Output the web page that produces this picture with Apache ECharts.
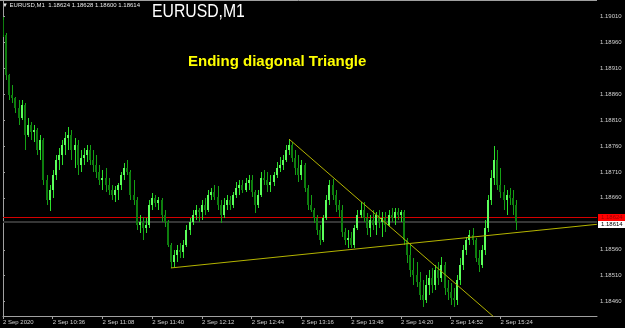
<!DOCTYPE html>
<html><head><meta charset="utf-8">
<script src="https://cdn.jsdelivr.net/npm/echarts@6/dist/echarts.min.js"></script>
<style>html,body{margin:0;padding:0;background:#000;overflow:hidden}#c{width:625px;height:328px}</style>
</head><body><div id="c"></div>
<script>
// minutes since 10:04 for each (2-minute) bar
const barMinute = [0,2,4,6,8,10,12,14,16,18,20,22,24,26,28,30,32,34,36,38,40,42,44,46,48,50,52,54,56,58,60,62,64,66,68,70,72,74,76,78,80,82,84,86,88,90,92,94,96,98,100,102,104,106,108,110,112,114,116,118,120,122,124,126,128,130,132,134,136,138,140,142,144,146,148,150,152,154,156,158,160,162,164,166,168,170,172,174,176,178,180,182,184,186,188,190,192,194,196,198,200,202,204,206,208,210,212,214,216,218,220,222,224,226,228,230,232,234,236,238,240,242,244,246,248,250,252,254,256,258,260,262,264,266,268,270,272,274,276,278,280,282,284,286,288,290,292,294,296,298,300,302,304,306,308,310,312,314,316,318,320,322,324,326,328,330];
const openP = [
1.19002,1.18973,1.18896,1.18858,1.18852,1.18833,1.18814,1.18839,1.18781,1.18800,
1.18787,1.18791,1.18752,1.18771,1.18694,1.18656,1.18675,1.18704,1.18733,1.18742,
1.18762,1.18775,1.18781,1.18752,1.18762,1.18723,1.18737,1.18742,1.18752,1.18733,
1.18723,1.18710,1.18694,1.18698,1.18685,1.18675,1.18665,1.18675,1.18685,1.18704,
1.18717,1.18710,1.18665,1.18656,1.18608,1.18613,1.18602,1.18608,1.18646,1.18660,
1.18650,1.18656,1.18627,1.18613,1.18569,1.18536,1.18550,1.18560,1.18556,1.18569,
1.18598,1.18613,1.18627,1.18637,1.18633,1.18646,1.18637,1.18665,1.18671,1.18662,
1.18646,1.18627,1.18646,1.18656,1.18646,1.18665,1.18679,1.18685,1.18675,1.18689,
1.18694,1.18671,1.18646,1.18665,1.18698,1.18694,1.18685,1.18690,1.18704,1.18717,
1.18723,1.18733,1.18752,1.18762,1.18737,1.18717,1.18704,1.18723,1.18679,1.18646,
1.18637,1.18621,1.18598,1.18579,1.18621,1.18656,1.18685,1.18665,1.18646,1.18637,
1.18594,1.18579,1.18583,1.18569,1.18602,1.18627,1.18637,1.18621,1.18602,1.18617,
1.18608,1.18627,1.18613,1.18621,1.18608,1.18627,1.18621,1.18633,1.18627,1.18633,
1.18579,1.18550,1.18521,1.18511,1.18498,1.18473,1.18463,1.18492,1.18506,1.18492,
1.18521,1.18506,1.18531,1.18486,1.18479,1.18467,1.18463,1.18502,1.18531,1.18560,
1.18579,1.18588,1.18579,1.18544,1.18531,1.18560,1.18602,1.18656,1.18698,1.18733,
1.18685,1.18671,1.18656,1.18665,1.18660,1.18646];
const closeP = [
1.18973,1.18896,1.18858,1.18852,1.18833,1.18814,1.18839,1.18781,1.18800,1.18787,
1.18791,1.18752,1.18771,1.18694,1.18656,1.18675,1.18704,1.18733,1.18742,1.18762,
1.18775,1.18781,1.18752,1.18762,1.18723,1.18737,1.18742,1.18752,1.18733,1.18723,
1.18710,1.18694,1.18698,1.18685,1.18675,1.18665,1.18675,1.18685,1.18704,1.18717,
1.18710,1.18665,1.18656,1.18608,1.18613,1.18602,1.18608,1.18646,1.18660,1.18650,
1.18656,1.18627,1.18613,1.18569,1.18536,1.18550,1.18560,1.18556,1.18569,1.18598,
1.18613,1.18627,1.18637,1.18633,1.18646,1.18637,1.18665,1.18671,1.18662,1.18646,
1.18627,1.18646,1.18656,1.18646,1.18665,1.18679,1.18685,1.18675,1.18689,1.18694,
1.18671,1.18646,1.18665,1.18698,1.18694,1.18685,1.18690,1.18704,1.18717,1.18723,
1.18733,1.18752,1.18762,1.18737,1.18717,1.18704,1.18723,1.18679,1.18646,1.18637,
1.18621,1.18598,1.18579,1.18621,1.18656,1.18685,1.18665,1.18646,1.18637,1.18594,
1.18579,1.18583,1.18569,1.18602,1.18627,1.18637,1.18621,1.18602,1.18617,1.18608,
1.18627,1.18613,1.18621,1.18608,1.18627,1.18621,1.18633,1.18627,1.18633,1.18579,
1.18550,1.18521,1.18511,1.18498,1.18473,1.18463,1.18492,1.18506,1.18492,1.18521,
1.18506,1.18531,1.18486,1.18479,1.18467,1.18463,1.18502,1.18531,1.18560,1.18579,
1.18588,1.18579,1.18544,1.18531,1.18560,1.18602,1.18656,1.18698,1.18733,1.18685,
1.18671,1.18656,1.18665,1.18660,1.18646,1.18614];
const highP = [
1.19008,1.18977,1.18898,1.18877,1.18854,1.18848,1.18848,1.18842,1.18814,1.18806,
1.18800,1.18794,1.18781,1.18775,1.18704,1.18685,1.18714,1.18742,1.18756,1.18771,
1.18787,1.18796,1.18791,1.18775,1.18771,1.18752,1.18756,1.18762,1.18762,1.18752,
1.18742,1.18723,1.18714,1.18717,1.18698,1.18685,1.18683,1.18688,1.18710,1.18727,
1.18733,1.18714,1.18694,1.18662,1.18627,1.18623,1.18621,1.18656,1.18669,1.18665,
1.18662,1.18660,1.18637,1.18617,1.18573,1.18560,1.18569,1.18573,1.18579,1.18608,
1.18621,1.18637,1.18646,1.18640,1.18656,1.18660,1.18675,1.18679,1.18685,1.18683,
1.18656,1.18660,1.18665,1.18664,1.18671,1.18690,1.18694,1.18694,1.18698,1.18704,
1.18704,1.18675,1.18675,1.18710,1.18714,1.18710,1.18704,1.18710,1.18729,1.18739,
1.18742,1.18762,1.18773,1.18767,1.18752,1.18742,1.18733,1.18727,1.18685,1.18665,
1.18640,1.18627,1.18608,1.18627,1.18665,1.18694,1.18696,1.18675,1.18656,1.18646,
1.18602,1.18598,1.18594,1.18608,1.18637,1.18652,1.18652,1.18631,1.18627,1.18637,
1.18633,1.18637,1.18633,1.18633,1.18637,1.18640,1.18640,1.18640,1.18637,1.18637,
1.18583,1.18569,1.18544,1.18536,1.18517,1.18502,1.18511,1.18521,1.18525,1.18531,
1.18536,1.18546,1.18536,1.18502,1.18496,1.18486,1.18511,1.18544,1.18569,1.18585,
1.18598,1.18602,1.18583,1.18560,1.18569,1.18617,1.18665,1.18714,1.18760,1.18752,
1.18717,1.18685,1.18675,1.18679,1.18675,1.18656];
const lowP = [
1.18970,1.18887,1.18848,1.18843,1.18823,1.18800,1.18810,1.18752,1.18778,1.18771,
1.18767,1.18742,1.18733,1.18685,1.18646,1.18635,1.18660,1.18694,1.18714,1.18723,
1.18742,1.18752,1.18733,1.18717,1.18704,1.18710,1.18723,1.18729,1.18723,1.18710,
1.18698,1.18685,1.18675,1.18671,1.18665,1.18656,1.18652,1.18656,1.18675,1.18694,
1.18704,1.18656,1.18646,1.18598,1.18592,1.18579,1.18592,1.18602,1.18637,1.18642,
1.18637,1.18613,1.18604,1.18565,1.18525,1.18527,1.18536,1.18544,1.18544,1.18565,
1.18588,1.18608,1.18617,1.18613,1.18617,1.18627,1.18633,1.18656,1.18656,1.18637,
1.18612,1.18621,1.18637,1.18637,1.18640,1.18660,1.18665,1.18669,1.18671,1.18675,
1.18662,1.18631,1.18640,1.18662,1.18685,1.18671,1.18671,1.18683,1.18698,1.18710,
1.18714,1.18729,1.18742,1.18729,1.18704,1.18690,1.18694,1.18671,1.18637,1.18633,
1.18612,1.18588,1.18569,1.18575,1.18617,1.18646,1.18656,1.18633,1.18623,1.18585,
1.18569,1.18563,1.18563,1.18563,1.18598,1.18621,1.18613,1.18588,1.18585,1.18598,
1.18588,1.18602,1.18585,1.18594,1.18604,1.18613,1.18608,1.18617,1.18613,1.18569,
1.18535,1.18508,1.18492,1.18488,1.18463,1.18450,1.18458,1.18473,1.18477,1.18483,
1.18492,1.18498,1.18473,1.18463,1.18454,1.18450,1.18454,1.18492,1.18521,1.18550,
1.18569,1.18569,1.18536,1.18517,1.18525,1.18550,1.18594,1.18646,1.18685,1.18675,
1.18660,1.18637,1.18627,1.18646,1.18627,1.18598];

const timeTickMinutes = [0,32,64,96,128,160,192,224,256,288,320];
const timeTickLabels = ['2 Sep 2020','2 Sep 10:36','2 Sep 11:08','2 Sep 11:40','2 Sep 12:12','2 Sep 12:44','2 Sep 13:16','2 Sep 13:48','2 Sep 14:20','2 Sep 14:52','2 Sep 15:24'];
const priceTicks = [1.19010,1.18960,1.18910,1.18860,1.18810,1.18760,1.18710,1.18660,1.18560,1.18510,1.18460];
const askPrice = 1.18624;
const bidPrice = 1.18614;
const lowerTrend = [[108,1.18525],[382,1.18609]];
const upperTrend = [[184,1.18773],[316,1.18430]];
const headerText = '\u25BC EURUSD,M1  1.18624 1.18628 1.18600 1.18614';
const titleText = 'EURUSD,M1';
const noteText = 'Ending diagonal Triangle';

const X_MIN = 0, X_MAX = 382.08, Y_MIN = 1.184325, Y_MAX = 1.190389;
const candles = barMinute.map((t,i)=>[t, openP[i], closeP[i], lowP[i], highP[i]]);

const chart = echarts.init(document.getElementById('c'), null, {renderer:'canvas'});
const axisCol = '#a0a0a0';
const FONT = 'Liberation Sans, Arial, sans-serif';
const lblFont = {fontSize:6, color:'#d0d0d0', fontFamily:FONT};

chart.setOption({
  backgroundColor:'#000000',
  animation:false,
  grid:{left:0, right:28, top:1, bottom:12, containLabel:false},
  xAxis:{
    type:'value', min:X_MIN, max:X_MAX,
    axisLine:{show:true, lineStyle:{color:axisCol, width:1}},
    axisTick:{show:true, customValues:timeTickMinutes, length:3, lineStyle:{color:axisCol}},
    axisLabel:Object.assign({customValues:timeTickMinutes, align:'left', margin:3,
      formatter:(v)=>{const k=timeTickMinutes.indexOf(Math.round(v)); return k>=0?timeTickLabels[k]:'';}}, lblFont),
    splitLine:{show:false}
  },
  yAxis:{
    type:'value', position:'right', min:Y_MIN, max:Y_MAX, scale:true,
    axisLine:{show:true, lineStyle:{color:axisCol, width:1}},
    axisTick:{show:true, customValues:priceTicks, length:2, lineStyle:{color:axisCol}},
    axisLabel:Object.assign({customValues:priceTicks, margin:3, formatter:(v)=>v.toFixed(5)}, lblFont),
    splitLine:{show:false}
  },
  series:[
    {
      type:'custom', name:'EURUSD', clip:true, z:2,
      data:candles,
      encode:{x:0, y:[1,2,3,4]},
      renderItem:(params, api)=>{
        const t=api.value(0), o=api.value(1), c=api.value(2), l=api.value(3), h=api.value(4);
        const pH=api.coord([t,h]), pL=api.coord([t,l]), pO=api.coord([t,o]), pC=api.coord([t,c]);
        const x=Math.round(pH[0]);
        const up=c>=o;
        const wick= up ? '#2be02b' : '#14a014';
        const body= up ? '#5cff5c' : '#0e7e0e';
        const top=Math.min(pO[1],pC[1]), bot=Math.max(pO[1],pC[1]);
        return {type:'group', children:[
          {type:'rect', shape:{x:x, y:Math.round(pH[1]), width:1, height:Math.max(1,Math.round(pL[1]-pH[1]))}, style:{fill:wick}},
          {type:'rect', shape:{x:x-1, y:Math.round(top), width:2, height:Math.max(1,Math.round(bot-top))}, style:{fill:body}}
        ]};
      }
    },
    {
      type:'line', name:'lower trend', data:lowerTrend, symbol:'none', clip:true, z:3,
      lineStyle:{color:'#b4b400', width:1}, silent:true
    },
    {
      type:'line', name:'upper trend', data:upperTrend, symbol:'none', clip:true, z:3,
      lineStyle:{color:'#b4b400', width:1}, silent:true
    }
  ]
});

// ask/bid lines, price tags and texts, positioned through the chart's own scales
const gridLeft = chart.convertToPixel({xAxisIndex:0}, X_MIN);
const gridRight = chart.convertToPixel({xAxisIndex:0}, X_MAX);
const gridTop = chart.convertToPixel({yAxisIndex:0}, Y_MAX);
const askY = Math.round(chart.convertToPixel({yAxisIndex:0}, askPrice));
const bidY = Math.round(chart.convertToPixel({yAxisIndex:0}, bidPrice));
chart.setOption({
  graphic:[
    {type:'line', shape:{x1:0,y1:Math.round(gridTop)-0.5,x2:gridRight,y2:Math.round(gridTop)-0.5}, style:{stroke:axisCol, lineWidth:1}, silent:true},
    {type:'rect', shape:{x:gridLeft, y:bidY-1, width:gridRight-gridLeft, height:2}, style:{fill:'#363636'}, silent:true, z:1},
    {type:'rect', shape:{x:gridLeft, y:askY, width:gridRight-gridLeft, height:1}, style:{fill:'#d40000'}, silent:true, z:1},
    {type:'rect', shape:{x:gridRight+1, y:askY-3, width:30, height:7}, style:{fill:'#ff0000'}, silent:true, z:10},
    {type:'text', x:gridRight+4, y:askY+0.5, style:{text:askPrice.toFixed(5), fill:'#a00000', fontSize:6, fontFamily:FONT, verticalAlign:'middle'}, silent:true, z:11},
    {type:'rect', shape:{x:gridRight+1, y:askY+4, width:30, height:7}, style:{fill:'#ffffff'}, silent:true, z:10},
    {type:'text', x:gridRight+4, y:askY+7.5, style:{text:bidPrice.toFixed(5), fill:'#000000', fontSize:6, fontFamily:FONT, verticalAlign:'middle'}, silent:true, z:11},
    {type:'text', x:2, y:2, style:{text:headerText, fill:'#e8e8e8', fontSize:6, fontFamily:FONT}, silent:true},
    {type:'text', x:152, y:2, scaleX:0.83, style:{text:titleText, fill:'#ffffff', fontSize:19, fontFamily:FONT}, silent:true},
    {type:'text', x:188, y:54, style:{text:noteText, fill:'#ffff00', fontSize:15, fontWeight:'bold', fontFamily:FONT}, silent:true}
  ]
});
</script></body></html>
